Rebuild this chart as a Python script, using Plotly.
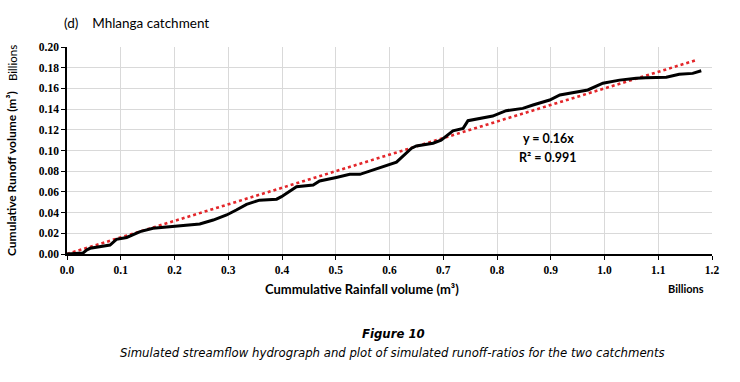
import plotly.graph_objects as go

# Data (billions of m3)
rain = [0, 0.03, 0.037, 0.043, 0.08, 0.092, 0.111, 0.136, 0.16, 0.2, 0.247, 0.272,
        0.297, 0.315, 0.334, 0.358, 0.39, 0.399, 0.42, 0.427, 0.458, 0.47, 0.501,
        0.526, 0.545, 0.582, 0.613, 0.641, 0.65, 0.681, 0.696, 0.718, 0.737, 0.746,
        0.768, 0.792, 0.817, 0.848, 0.867, 0.898, 0.917, 0.941, 0.969, 0.997, 1.028,
        1.059, 1.077, 1.115, 1.139, 1.164, 1.18]
runoff = [0, 0.001, 0.004, 0.0055, 0.0087, 0.0142, 0.016, 0.0216, 0.0248, 0.027,
          0.029, 0.0328, 0.0377, 0.0425, 0.048, 0.052, 0.053, 0.0554, 0.062, 0.065,
          0.0667, 0.0705, 0.074, 0.077, 0.077, 0.083, 0.0887, 0.1022, 0.1044, 0.107,
          0.110, 0.119, 0.1214, 0.1288, 0.131, 0.1333, 0.1385, 0.1407, 0.144, 0.1488,
          0.1536, 0.1559, 0.1585, 0.165, 0.168, 0.1697, 0.1703, 0.1707, 0.1736,
          0.1745, 0.177]
slope = 0.16
r2 = 0.991
x_ticks = [0.0, 0.1, 0.2, 0.3, 0.4, 0.5, 0.6, 0.7, 0.8, 0.9, 1.0, 1.1, 1.2]
y_ticks = [0.00, 0.02, 0.04, 0.06, 0.08, 0.10, 0.12, 0.14, 0.16, 0.18, 0.20]

trend_x = [0, 1.17]
trend_y = [slope * v for v in trend_x]

fig = go.Figure()
fig.add_trace(go.Scatter(x=trend_x, y=trend_y, mode="lines",
                         line=dict(color="#e3262a", width=2.6, dash="dot"),
                         showlegend=False, hoverinfo="skip"))
fig.add_trace(go.Scatter(x=rain, y=runoff, mode="lines",
                         line=dict(color="black", width=3),
                         showlegend=False))

tickfont = dict(family="Liberation Serif", size=11.5, color="black", weight="bold")
fig.update_xaxes(range=[0, 1.2], tickvals=x_ticks, tickformat=".1f",
                 showgrid=True, gridcolor="#d9d9d9", gridwidth=1,
                 showline=True, linecolor="black", linewidth=1.5,
                 ticks="outside", ticklen=4, tickcolor="black",
                 tickfont=tickfont, zeroline=False)
fig.update_yaxes(range=[0, 0.2], tickvals=y_ticks, tickformat=".2f",
                 showgrid=True, gridcolor="#d9d9d9", gridwidth=1,
                 showline=True, linecolor="black", linewidth=1.5,
                 ticks="outside", ticklen=4, tickcolor="black",
                 tickfont=tickfont, zeroline=False)

lab = "Lato"
cap = "Liberation Sans Narrow, DejaVu Sans Condensed"
ann = [
    dict(text="(d)&nbsp;&nbsp;&nbsp;&nbsp;Mhlanga catchment", x=62, y=23, font=dict(size=13.5)),
    dict(text="<b>y = 0.16x</b>", x=548, y=138, font=dict(size=12.5), xanchor="center"),
    dict(text="<b>R² = 0.991</b>", x=548, y=157, font=dict(size=12.5), xanchor="center"),
    dict(text="<b>Cummulative Rainfall volume (m³)</b>", x=362, y=289, font=dict(size=13), xanchor="center"),
    dict(text="<b>Billions</b>", x=686, y=288, font=dict(size=11), xanchor="center"),
    dict(text="<b>Cumulative Runoff volume (m³)</b>", x=11, y=174, font=dict(size=12), xanchor="center", textangle=-90),
    dict(text="Billions", x=12, y=63, font=dict(size=11.5), xanchor="center", textangle=-90),
    dict(text="<b><i>Figure 10</i></b>", x=393, y=333, font=dict(size=13, family=cap), xanchor="center"),
    dict(text="<i>Simulated streamflow hydrograph and plot of simulated runoff-ratios for the two catchments</i>",
         x=392, y=352, font=dict(size=13, family=cap), xanchor="center"),
]
L, R, T, B = 67, 712, 47, 254
annotations = []
for a in ann:
    d = dict(xref="paper", yref="paper", showarrow=False, xanchor=a.get("xanchor", "left"),
             yanchor="middle", text=a["text"], textangle=a.get("textangle", 0))
    f = dict(family=lab, color="black")
    f.update(a["font"])
    d["font"] = f
    d["x"] = (a["x"] - L) / (R - L)
    d["y"] = (B - a["y"]) / (B - T)
    annotations.append(d)

fig.update_layout(width=740, height=382, paper_bgcolor="white", plot_bgcolor="white",
                  margin=dict(l=L, r=740 - R, t=T, b=382 - B),
                  annotations=annotations, showlegend=False)
fig.write_html("out.html", config={"displayModeBar": False},
               post_script="document.body.style.margin='0';")
